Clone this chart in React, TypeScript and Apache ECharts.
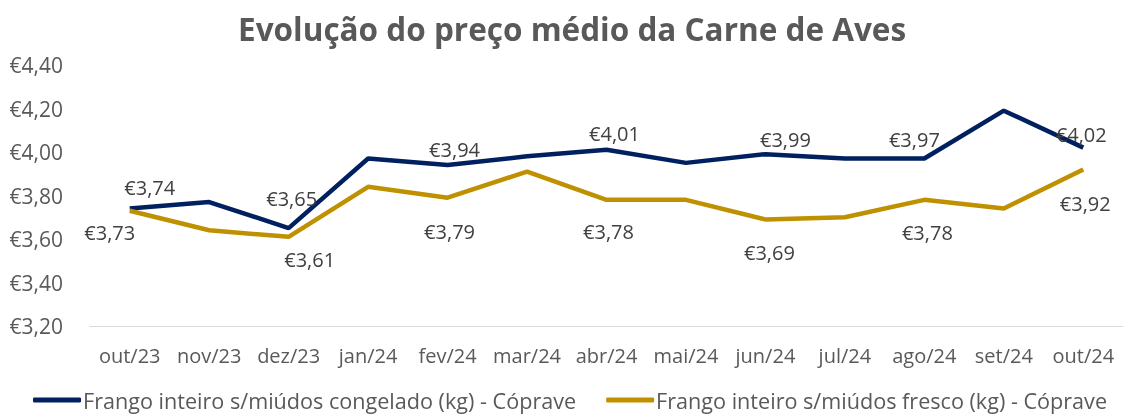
import React, { useEffect, useRef } from "react";
import * as echarts from "echarts";

const categories = ["out/23", "nov/23", "dez/23", "jan/24", "fev/24", "mar/24", "abr/24", "mai/24", "jun/24", "jul/24", "ago/24", "set/24", "out/24"];
const congelado = [3.74, 3.77, 3.65, 3.97, 3.94, 3.98, 4.01, 3.95, 3.99, 3.97, 3.97, 4.19, 4.02];
const fresco = [3.73, 3.64, 3.61, 3.84, 3.79, 3.91, 3.78, 3.78, 3.69, 3.70, 3.78, 3.74, 3.92];
const labelledIdx = [0, 2, 4, 6, 8, 10, 12];
const seriesNames = ["Frango inteiro s/miúdos congelado (kg) - Cóprave", "Frango inteiro s/miúdos fresco (kg) - Cóprave"];
const titleText = "Evolução do preço médio da Carne de Aves";

const FONT = "'Open Sans', 'Noto Sans', sans-serif";
const fmt = (v: number) => "€" + v.toFixed(2).replace(".", ",");

// label placement (offset from the data point, in px)
const navyLabelOffsets: Record<number, number[]> = {
  0: [20, -21], 2: [3, -30], 4: [7, -16], 6: [8, -16], 8: [20, -15], 10: [-10, -19], 12: [-2, -13],
};
const goldLabelOffsets: Record<number, number[]> = {
  0: [-20, 22], 2: [21, 23], 4: [2, 34], 6: [2, 32], 8: [4, 33], 10: [3, 33], 12: [2, 34],
};

export default function App() {
  const ref = useRef<HTMLDivElement>(null);
  useEffect(() => {
    if (!ref.current) return;
    const chart = echarts.init(ref.current, undefined, { renderer: "svg" });
    const mk = (vals: number[], offs: Record<number, number[]>) =>
      vals.map((v, i) => ({
        value: v,
        label: labelledIdx.includes(i)
          ? { show: true, position: "inside", offset: offs[i] || [0, 0] }
          : { show: false },
      }));
    const lbl = {
      color: "#404040",
      fontSize: 20,
      fontFamily: FONT,
      align: "center",
      verticalAlign: "middle",
      formatter: (p: any) => fmt(p.value),
    };
    chart.setOption({
      animation: false,
      textStyle: { fontFamily: FONT },
      title: {
        text: titleText,
        left: 233,
        top: 7,
        textStyle: { fontFamily: FONT, fontSize: 31.5, fontWeight: "bold", color: "#595959" },
      },
      grid: { left: 90, width: 1035, top: 65, height: 261 },
      xAxis: {
        type: "category",
        data: categories,
        boundaryGap: true,
        axisLine: { show: true, lineStyle: { color: "#d9d9d9", width: 1 } },
        axisTick: { show: false },
        axisLabel: { color: "#595959", fontSize: 20, margin: 19, fontFamily: FONT, interval: 0 },
      },
      yAxis: {
        type: "value",
        min: 3.2,
        max: 4.4,
        interval: 0.2,
        splitLine: { show: false },
        axisLine: { show: false },
        axisTick: { show: false },
        axisLabel: { color: "#595959", fontSize: 21, margin: 27, fontFamily: FONT, formatter: (v: number) => fmt(v) },
      },
      legend: {
        top: 385,
        left: 28,
        padding: [4, 5],
        itemWidth: 48,
        itemHeight: 5,
        itemGap: 30,
        icon: "roundRect",
        textStyle: { color: "#595959", fontSize: 21.6, fontFamily: FONT, padding: [0, 0, 0, -3] },
        data: seriesNames,
      },
      series: [
        {
          name: seriesNames[0],
          type: "line",
          data: mk(congelado, navyLabelOffsets),
          symbol: "circle",
          symbolSize: 0,
          showSymbol: true,
          lineStyle: { color: "#002060", width: 4.5 },
          itemStyle: { color: "#002060" },
          label: lbl,
        },
        {
          name: seriesNames[1],
          type: "line",
          data: mk(fresco, goldLabelOffsets),
          symbol: "circle",
          symbolSize: 0,
          showSymbol: true,
          lineStyle: { color: "#BF9000", width: 4.5 },
          itemStyle: { color: "#BF9000" },
          label: lbl,
        },
      ],
    });
    return () => chart.dispose();
  }, []);
  return <div ref={ref} style={{ position: "fixed", left: 0, top: 0, width: 1123, height: 414 }} />;
}
